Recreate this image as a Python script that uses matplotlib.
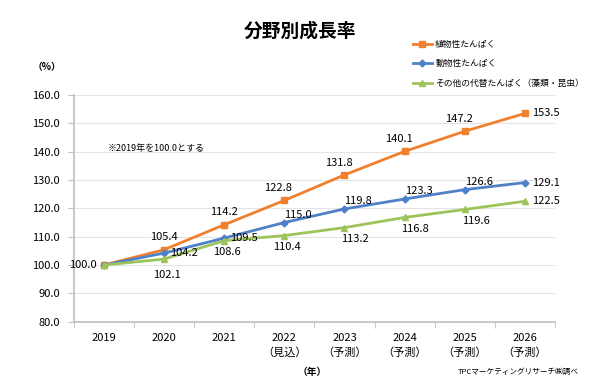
import matplotlib.pyplot as plt

plt.rcParams['font.family'] = ['Noto Sans CJK JP', 'DejaVu Sans']

years = ['2019', '2020', '2021', '2022\n（見込）', '2023\n（予測）', '2024\n（予測）', '2025\n（予測）', '2026\n（予測）']
plant = [100.0, 105.4, 114.2, 122.8, 131.8, 140.1, 147.2, 153.5]
animal = [100.0, 104.2, 109.5, 115.0, 119.8, 123.3, 126.6, 129.1]
other = [100.0, 102.1, 108.6, 110.4, 113.2, 116.8, 119.6, 122.5]

names = ['植物性たんぱく', '動物性たんぱく', 'その他の代替たんぱく（藻類・昆虫）']
colors = ['#F07F2E', '#4F81C9', '#9DC45A']

fig = plt.figure(figsize=(6, 3.83), dpi=100)
ax = fig.add_axes([0.123, 0.16, 0.802, 0.592])

x = list(range(len(years)))
ax.plot(x, plant, color=colors[0], marker='s', markersize=5, lw=2, label=names[0], zorder=3)
ax.plot(x, animal, color=colors[1], marker='D', markersize=3.5, lw=2, label=names[1], zorder=3)
ax.plot(x, other, color=colors[2], marker='^', markersize=5, lw=2, label=names[2], zorder=3)

fs = 8
# data labels
ax.text(x[0] - 0.12, plant[0], '%.1f' % plant[0], ha='right', va='center', fontsize=fs)
for i in range(1, len(x) - 1):
    dx = -0.1 if i > 2 else 0
    ax.text(x[i] + dx, plant[i] + 2.6, '%.1f' % plant[i], ha='center', va='bottom', fontsize=fs)
    if i < 3:
        ax.text(x[i] + 0.1, animal[i], '%.1f' % animal[i], ha='left', va='center', fontsize=fs)
    else:
        ax.text(x[i] + 0.0, animal[i] + 1.0, '%.1f' % animal[i], ha='left', va='bottom', fontsize=fs)
    dx = 0.18 if i > 3 else 0.05
    dy = 4.0 if i == 1 else 2.4
    ax.text(x[i] + dx, other[i] - dy, '%.1f' % other[i], ha='center', va='top', fontsize=fs)
for vals in (plant, animal, other):
    ax.text(x[-1] + 0.12, vals[-1], '%.1f' % vals[-1], ha='left', va='center', fontsize=fs)

ax.set_xlim(-0.5, len(years) - 0.5)
ax.set_ylim(80, 160)
ax.set_yticks(range(80, 161, 10))
ax.set_yticklabels(['%.1f' % v for v in range(80, 161, 10)], fontsize=8)
ax.set_xticks(x)
ax.set_xticklabels(years, fontsize=8, linespacing=1.5)
ax.set_xticks([i - 0.5 for i in range(len(years) + 1)], minor=True)
ax.tick_params(axis='x', which='major', length=0, pad=8)
ax.tick_params(axis='x', which='minor', length=4, color='#bfbfbf')
ax.tick_params(axis='y', length=4, color='#bfbfbf', pad=6)
ax.grid(axis='y', color='#e4e4e4', lw=0.8)
ax.set_axisbelow(True)
for s in ['top', 'right']:
    ax.spines[s].set_visible(False)
for s in ['left', 'bottom']:
    ax.spines[s].set_color('#bfbfbf')
    ax.spines[s].set_linewidth(1.2)

ax.text(0.07, 141, '※2019年を100.0とする', fontsize=6.5, ha='left', va='center')

fig.text(0.5, 0.92, '分野別成長率', ha='center', va='center', fontsize=13.5, fontweight='bold')
fig.text(0.078, 0.825, '（%）', ha='center', va='center', fontsize=7, fontweight='bold')
fig.text(0.52, 0.03, '（年）', ha='center', va='center', fontsize=7, fontweight='bold')
fig.text(0.965, 0.03, 'TPCマーケティングリサーチ㈱調べ', ha='right', va='center', fontsize=5.5)

fig.legend(loc='upper left', bbox_to_anchor=(0.683, 0.905), frameon=False, fontsize=6.3,
           handlelength=2.1, labelspacing=1.2, handletextpad=0.4, borderaxespad=0)

fig.savefig('out.png', dpi=100)
